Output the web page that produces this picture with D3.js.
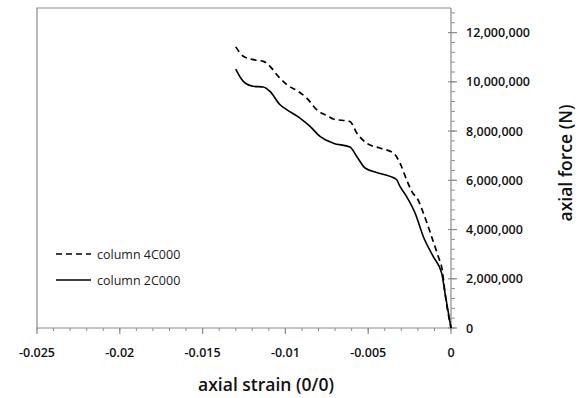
<!DOCTYPE html>
<html><head><meta charset="utf-8">
<script src="https://cdn.jsdelivr.net/npm/d3@7"></script>
<style>body{margin:0;background:#fff}svg{display:block}text{font-family:"Open Sans",sans-serif}</style>
</head><body><svg id="c" width="580" height="398"></svg>
<script>
const seriesNames = ["column 4C000", "column 2C000"];
const strain4C = [-0.0130,-0.01254,-0.01194,-0.01133,-0.01093,-0.01043,-0.00992,-0.00922,-0.00871,-0.00811,-0.00741,-0.00711,-0.00610,-0.00569,-0.00509,-0.00429,-0.00348,-0.00308,-0.00268,-0.00228,-0.00207,-0.00167,-0.00117,-0.00077,-0.00053,-0.00036,0];
const force4C  = [11.42,11.04,10.90,10.83,10.63,10.22,9.89,9.61,9.34,8.87,8.60,8.49,8.39,7.92,7.51,7.31,7.11,6.70,6.02,5.45,5.30,4.67,3.71,2.90,2.36,1.41,0].map(v=>v*1e6);
const strain2C = [-0.0130,-0.01254,-0.01194,-0.01133,-0.01093,-0.01032,-0.00992,-0.00912,-0.00851,-0.00791,-0.00711,-0.00610,-0.00569,-0.00519,-0.00449,-0.00368,-0.00328,-0.00308,-0.00268,-0.00217,-0.00167,-0.00107,-0.00056,-0.00036,0];
const force2C  = [10.52,10.02,9.82,9.79,9.61,9.07,8.87,8.53,8.19,7.78,7.51,7.35,6.97,6.50,6.32,6.16,6.02,5.75,5.34,4.67,3.71,2.90,2.22,1.41,0].map(v=>v*1e6);
const xTicks = [-0.025,-0.02,-0.015,-0.01,-0.005,0];
const xTickLabels = ["-0.025","-0.02","-0.015","-0.01","-0.005","0"];
const yTicks = [0,2e6,4e6,6e6,8e6,10e6,12e6];
const yTickLabels = ["0","2,000,000","4,000,000","6,000,000","8,000,000","10,000,000","12,000,000"];

const svg = d3.select("#c");
const x = d3.scaleLinear().domain([-0.025,0]).range([37,451]);
const y = d3.scaleLinear().domain([0,13e6]).range([328,8]);
const axisCol = "#8c8c8c";

svg.append("path").attr("d",`M${x(-0.025)},${y(0)}V${y(13e6)}H${x(0)}`)
  .attr("fill","none").attr("stroke",axisCol).attr("stroke-width",1.2);

const xMinor = d3.range(-0.025,0.00001,0.001);
const gx = svg.append("g").attr("transform",`translate(0,${y(0)})`);
gx.append("line").attr("x1",x(-0.025)).attr("x2",x(0)).attr("stroke",axisCol).attr("stroke-width",1.2);
gx.selectAll(".mn").data(xMinor).join("line").attr("x1",d=>x(d)).attr("x2",d=>x(d)).attr("y1",0).attr("y2",3).attr("stroke",axisCol);
gx.selectAll(".mj").data(xTicks).join("line").attr("x1",d=>x(d)).attr("x2",d=>x(d)).attr("y1",0).attr("y2",6).attr("stroke",axisCol).attr("stroke-width",1.2);
gx.selectAll("text").data(xTicks).join("text").attr("x",d=>x(d)).attr("y",28.5)
  .attr("text-anchor","middle").attr("font-size",12.5).attr("font-weight",600).attr("fill","#111")
  .text((d,i)=>xTickLabels[i]);

const yMinor = d3.range(0,13e6+1,4e5);
const gy = svg.append("g").attr("transform",`translate(${x(0)},0)`);
gy.append("line").attr("y1",y(0)).attr("y2",y(13e6)).attr("stroke",axisCol).attr("stroke-width",1.2);
gy.selectAll(".mn").data(yMinor).join("line").attr("y1",d=>y(d)).attr("y2",d=>y(d)).attr("x1",0).attr("x2",4).attr("stroke",axisCol);
gy.selectAll(".mj").data(yTicks).join("line").attr("y1",d=>y(d)).attr("y2",d=>y(d)).attr("x1",-3).attr("x2",6).attr("stroke",axisCol).attr("stroke-width",1.2);
gy.selectAll("text").data(yTicks).join("text").attr("x",15).attr("y",d=>y(d)+4.5)
  .attr("font-size",12.5).attr("font-weight",600).attr("fill","#111")
  .text((d,i)=>yTickLabels[i]);

const line = d3.line().x(d=>x(d[0])).y(d=>y(d[1])).curve(d3.curveMonotoneX);
const d4 = strain4C.map((s,i)=>[s,force4C[i]]);
const d2 = strain2C.map((s,i)=>[s,force2C[i]]);
svg.append("path").attr("d",line(d4)).attr("fill","none").attr("stroke","#000").attr("stroke-width",1.7).attr("stroke-dasharray","6,4");
svg.append("path").attr("d",line(d2)).attr("fill","none").attr("stroke","#000").attr("stroke-width",1.6);

const leg = [{y:254,dash:"6,4"},{y:280,dash:null}];
leg.forEach((l,i)=>{
  const ln = svg.append("line").attr("x1",56).attr("x2",91).attr("y1",l.y).attr("y2",l.y).attr("stroke","#000").attr("stroke-width",1.7);
  if(l.dash) ln.attr("stroke-dasharray",l.dash);
  svg.append("text").attr("x",97).attr("y",l.y+4.5).attr("font-size",12.5).attr("fill","#222").text(seriesNames[i]);
});

svg.append("text").attr("x",266).attr("y",391).attr("text-anchor","middle").attr("font-size",17.5).attr("font-weight",600).attr("fill","#111").text("axial strain (0/0)");
svg.append("text").attr("transform","translate(572,163) rotate(-90)").attr("text-anchor","middle").attr("font-size",17.5).attr("font-weight",600).attr("fill","#111").text("axial force  (N)");
</script></body></html>
